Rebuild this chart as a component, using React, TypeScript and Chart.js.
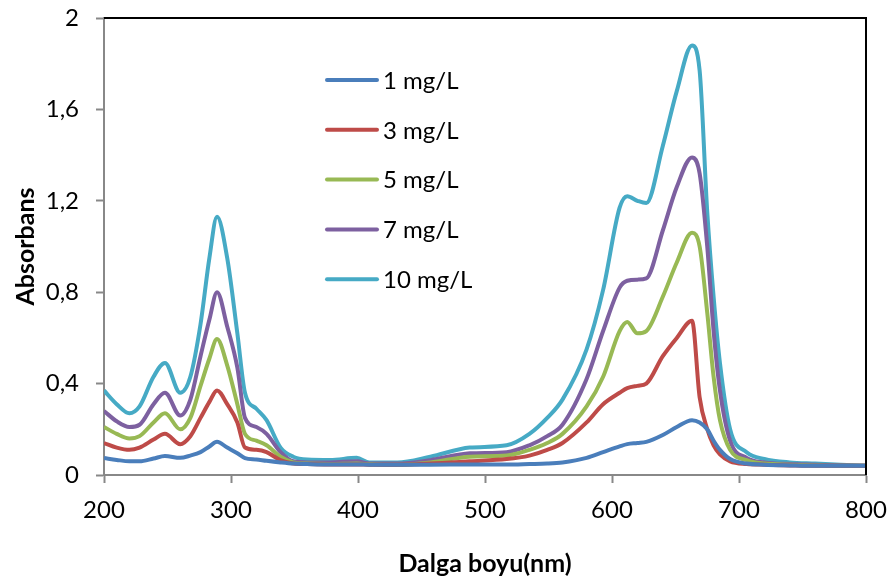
import React, { useEffect, useRef } from "react";
import { Chart, registerables } from "chart.js";

Chart.register(...registerables);

const wavelengths = [200, 210, 220, 228, 239, 248, 260, 268, 276, 283, 289, 297, 305, 311, 320, 328, 339, 349, 360, 378, 399, 409, 420, 431, 457, 488, 517, 535, 549, 561, 580, 593, 606, 612, 620, 627, 640, 651, 663, 669, 675, 680, 685, 693, 706, 720, 740, 760, 780, 800];

const s1 = [0.074, 0.066, 0.06, 0.06, 0.072, 0.083, 0.075, 0.085, 0.1, 0.125, 0.145, 0.12, 0.095, 0.074, 0.068, 0.062, 0.055, 0.05, 0.048, 0.046, 0.046, 0.045, 0.045, 0.045, 0.045, 0.046, 0.046, 0.048, 0.05, 0.055, 0.075, 0.1, 0.125, 0.135, 0.14, 0.145, 0.175, 0.21, 0.24, 0.23, 0.2, 0.15, 0.11, 0.07, 0.05, 0.045, 0.042, 0.04, 0.04, 0.04];
const s3 = [0.14, 0.12, 0.11, 0.12, 0.155, 0.18, 0.135, 0.17, 0.25, 0.32, 0.37, 0.31, 0.23, 0.12, 0.11, 0.1, 0.065, 0.05, 0.048, 0.046, 0.046, 0.045, 0.045, 0.045, 0.05, 0.06, 0.07, 0.085, 0.11, 0.14, 0.23, 0.31, 0.36, 0.38, 0.39, 0.4, 0.52, 0.6, 0.675, 0.34, 0.2, 0.13, 0.09, 0.06, 0.048, 0.045, 0.042, 0.04, 0.04, 0.04];
const s5 = [0.21, 0.18, 0.16, 0.17, 0.23, 0.27, 0.2, 0.25, 0.39, 0.51, 0.595, 0.48, 0.31, 0.18, 0.15, 0.13, 0.08, 0.055, 0.05, 0.048, 0.05, 0.047, 0.045, 0.045, 0.055, 0.08, 0.085, 0.11, 0.14, 0.18, 0.3, 0.43, 0.63, 0.67, 0.62, 0.63, 0.78, 0.93, 1.06, 1.0, 0.71, 0.43, 0.24, 0.11, 0.065, 0.05, 0.045, 0.042, 0.04, 0.04];
const s7 = [0.28, 0.235, 0.21, 0.22, 0.31, 0.36, 0.26, 0.33, 0.52, 0.68, 0.8, 0.65, 0.47, 0.25, 0.21, 0.18, 0.1, 0.06, 0.055, 0.055, 0.06, 0.05, 0.05, 0.05, 0.065, 0.095, 0.1, 0.13, 0.17, 0.22, 0.42, 0.63, 0.82, 0.85, 0.855, 0.86, 1.07, 1.26, 1.39, 1.32, 1.0, 0.63, 0.37, 0.15, 0.075, 0.055, 0.048, 0.045, 0.042, 0.04];
const s10 = [0.37, 0.31, 0.27, 0.3, 0.43, 0.49, 0.36, 0.43, 0.66, 0.95, 1.13, 0.95, 0.62, 0.36, 0.29, 0.24, 0.12, 0.08, 0.068, 0.066, 0.075, 0.055, 0.055, 0.055, 0.08, 0.12, 0.13, 0.18, 0.25, 0.33, 0.55, 0.81, 1.17, 1.22, 1.2, 1.19, 1.44, 1.68, 1.88, 1.77, 1.15, 0.78, 0.49, 0.2, 0.1, 0.07, 0.055, 0.05, 0.045, 0.04];

const seriesLabels = ["1 mg/L", "3 mg/L", "5 mg/L", "7 mg/L", "10 mg/L"];
const seriesValues = [s1, s3, s5, s7, s10];
const seriesColors = ["#4A7EBB", "#BE4B48", "#98B954", "#7D60A0", "#46AAC5"];

const xTitle = "Dalga boyu(nm)";
const yTitle = "Absorbans";

const FONT = "Lato, 'Open Sans', sans-serif";

const legendPlugin = {
  id: "insideLegend",
  afterDraw(chart: any) {
    const ctx = chart.ctx;
    ctx.save();
    chart.data.datasets.forEach((ds: any, i: number) => {
      const y = 80 + i * 49.8;
      ctx.strokeStyle = ds.borderColor;
      ctx.lineWidth = 4;
      ctx.lineCap = "round";
      ctx.beginPath();
      ctx.moveTo(327, y);
      ctx.lineTo(377, y);
      ctx.stroke();
      ctx.fillStyle = "#000";
      ctx.font = `24px ${FONT}`;
      ctx.textBaseline = "middle";
      ctx.textAlign = "left";
      ctx.fillText(ds.label, 383, y + 1);
    });
    const a = chart.chartArea;
    ctx.strokeStyle = "#000";
    ctx.lineWidth = 2;
    ctx.lineCap = "butt";
    ctx.beginPath();
    ctx.moveTo(a.left, a.top);
    ctx.lineTo(a.right, a.top);
    ctx.lineTo(a.right, a.bottom);
    ctx.stroke();
    ctx.restore();
  },
};

export default function App() {
  const ref = useRef<HTMLCanvasElement>(null);
  useEffect(() => {
    if (!ref.current) return;
    const chart = new Chart(ref.current, {
      type: "line",
      data: {
        datasets: seriesValues.map((vals, i) => ({
          label: seriesLabels[i],
          data: wavelengths.map((x, j) => ({ x, y: vals[j] })),
          borderColor: seriesColors[i],
          backgroundColor: seriesColors[i],
          borderWidth: 4,
          pointRadius: 0,
          cubicInterpolationMode: "monotone" as const,
          fill: false,
        })),
      },
      options: {
        animation: false,
        responsive: true,
        maintainAspectRatio: false,
        layout: { padding: { top: 18, right: 24, left: 0, bottom: 0 } },
        plugins: { legend: { display: false }, tooltip: { enabled: false } },
        scales: {
          x: {
            type: "linear",
            min: 200,
            max: 800,
            afterFit: (s: any) => { s.height = 104; s.paddingLeft = 0; s.paddingRight = 0; },
            ticks: { stepSize: 100, color: "#000", padding: 13, font: { family: FONT, size: 24 } },
            grid: { drawOnChartArea: false, tickLength: 8, color: "#888", tickWidth: 2 },
            border: { color: "#888", width: 2 },
            title: { display: true, text: xTitle, color: "#000", font: { family: FONT, size: 25, weight: "bold" }, padding: { top: 0, bottom: 0 } },
          },
          y: {
            min: 0,
            max: 2,
            afterFit: (s: any) => { s.width = 104; s.paddingTop = 0; s.paddingBottom = 0; },
            ticks: {
              stepSize: 0.4,
              color: "#000",
              padding: 17,
              font: { family: FONT, size: 24 },
              callback: (v: any) => String(Math.round(Number(v) * 10) / 10).replace(".", ","),
            },
            grid: { drawOnChartArea: false, tickLength: 8, color: "#888", tickWidth: 2 },
            border: { color: "#888", width: 2 },
            title: { display: true, text: yTitle, color: "#000", font: { family: FONT, size: 25, weight: "bold" }, padding: { top: 11, bottom: 0 } },
          },
        },
      },
      plugins: [legendPlugin],
    });
    return () => chart.destroy();
  }, []);
  return (
    <div style={{ position: "absolute", left: 0, top: 0, width: 890, height: 579, background: "#fff" }}>
      <canvas ref={ref} />
    </div>
  );
}
